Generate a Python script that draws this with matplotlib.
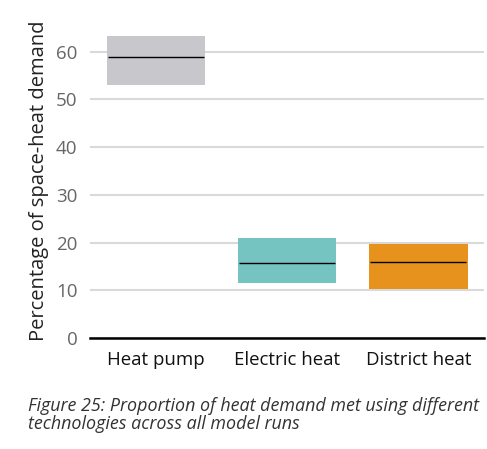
import matplotlib
matplotlib.use("Agg")
import matplotlib.pyplot as plt

categories = ["Heat pump", "Electric heat", "District heat"]
low = [53.0, 11.6, 10.3]
high = [63.3, 21.0, 19.7]
median = [58.9, 15.7, 15.9]
colors = ["#C8C8CC", "#76C4C2", "#E8921E"]
yticks = [0, 10, 20, 30, 40, 50, 60]

plt.rcParams['font.family'] = ['Open Sans', 'DejaVu Sans']

fig = plt.figure(figsize=(4.87, 4.49), dpi=100)
ax = fig.add_axes([0.185, 0.247, 0.809, 0.702])

x = list(range(len(categories)))
heights = [h - l for h, l in zip(high, low)]
width = 0.75
ax.bar(x, heights, bottom=low, width=width, color=colors, zorder=3)
for xi, m in zip(x, median):
    ax.hlines(m, xi - width / 2 + 0.01, xi + width / 2 - 0.01, color="black", linewidth=1.0, zorder=4)

ax.set_xlim(-0.5, 2.5)
ax.set_ylim(0, 66)
ax.set_yticks(yticks)
ax.set_yticklabels([str(t) for t in yticks])
ax.set_xticks(x)
ax.set_xticklabels(categories)
ax.yaxis.grid(True, color="#D9D9D9", linewidth=1.5, zorder=0)
ax.set_axisbelow(True)
for s in ["top", "right", "left"]:
    ax.spines[s].set_visible(False)
ax.spines["bottom"].set_color("black")
ax.spines["bottom"].set_linewidth(1.8)
ax.tick_params(axis="y", length=0, pad=9, labelsize=13.5, labelcolor="#666666")
ax.tick_params(axis="x", length=0, pad=9, labelsize=13.4, labelcolor="#111111")
ax.set_ylabel("Percentage of space-heat demand", fontsize=14.5, color="#222222", labelpad=5)

fig.text(0.057, 0.076, "Figure 25: Proportion of heat demand met using different\ntechnologies across all model runs",
         fontsize=12.9, style="italic", color="#333333", linespacing=1.05, va="center", ha="left")

fig.savefig("out.png", dpi=100)
